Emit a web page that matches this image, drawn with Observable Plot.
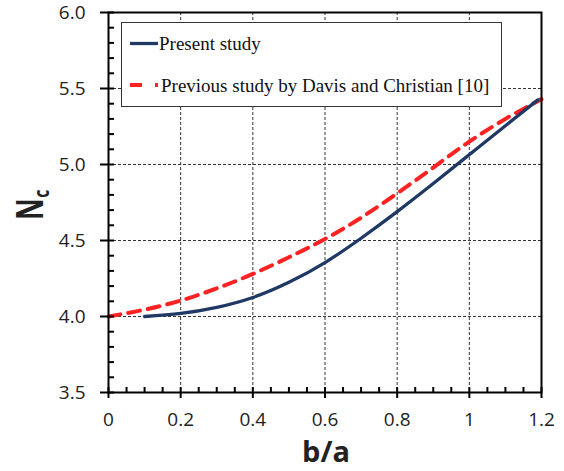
<!DOCTYPE html>
<html>
<head>
<meta charset="utf-8">
<script src="https://cdn.jsdelivr.net/npm/d3@7"></script>
<script src="https://cdn.jsdelivr.net/npm/@observablehq/plot@0.6"></script>
<style>
  html, body { margin: 0; padding: 0; background: #fff; }
  #chart svg { display: block; }
</style>
</head>
<body>
<div id="chart"></div>
<script>
// ---- data ----
const seriesNames = ["Present study", "Previous study by Davis and Christian [10]"];
const bRatioPresent = [0.1, 0.2, 0.3, 0.4, 0.5, 0.6, 0.7, 0.8, 0.9, 1.0, 1.1, 1.19];
const ncPresent     = [4.0, 4.02, 4.06, 4.125, 4.225, 4.355, 4.515, 4.69, 4.875, 5.065, 5.255, 5.425];
const bRatioPrev = [0, 0.1, 0.2, 0.3, 0.4, 0.5, 0.6, 0.7, 0.8, 0.9, 1.0, 1.1, 1.2];
const ncPrev     = [4.0, 4.045, 4.105, 4.185, 4.28, 4.39, 4.51, 4.65, 4.81, 4.98, 5.15, 5.30, 5.43];
const xTicks = [0, 0.2, 0.4, 0.6, 0.8, 1.0, 1.2];
const xTickLabels = ["0", "0.2", "0.4", "0.6", "0.8", "1", "1.2"];
const yTicks = [3.5, 4.0, 4.5, 5.0, 5.5, 6.0];
const yTickLabels = ["3.5", "4.0", "4.5", "5.0", "5.5", "6.0"];
const xMinor = d3.range(0, 1.2001, 0.05).map(v => +v.toFixed(2));
const yMinor = d3.range(3.5, 6.0001, 0.1).map(v => +v.toFixed(1));
const xTitle = "b/a";
const yTitleMain = "N";
const yTitleSub = "c";

const present = bRatioPresent.map((b, i) => ({b, nc: ncPresent[i]}));
const previous = bRatioPrev.map((b, i) => ({b, nc: ncPrev[i]}));

const blue = "#203864";
const red = "#ff2222";

const W = 564, H = 471;
const svg = Plot.plot({
  width: W,
  height: H,
  marginLeft: 108,
  marginRight: 23,
  marginTop: 12,
  marginBottom: 79,
  style: {fontFamily: "'Open Sans', sans-serif", fontSize: "19px", color: "#222", background: "#fff"},
  x: {domain: [0, 1.2]},
  y: {domain: [3.5, 6.0]},
  marks: [
    Plot.gridX(xTicks.slice(1, -1), {stroke: "#333", strokeOpacity: 1, strokeWidth: 1, strokeDasharray: "3,2"}),
    Plot.gridY(yTicks.slice(1, -1), {stroke: "#333", strokeOpacity: 1, strokeWidth: 1, strokeDasharray: "3,2"}),
    Plot.line(previous, {x: "b", y: "nc", stroke: red, strokeWidth: 4, strokeDasharray: "12,8", curve: "natural"}),
    Plot.line(present, {x: "b", y: "nc", stroke: blue, strokeWidth: 3.3, curve: "natural"}),
    Plot.frame({stroke: "#000", strokeWidth: 2}),
    // inward ticks (minor + major)
    Plot.axisX({ticks: xMinor, tickSize: -5, tickFormat: () => "", label: null, stroke: "#000", strokeWidth: 2}),
    Plot.axisY({ticks: yMinor, tickSize: -6, tickFormat: () => "", label: null, stroke: "#000", strokeWidth: 2}),
    // outward major ticks with labels
    Plot.axisX({ticks: xTicks, tickSize: 6, tickPadding: 14, tickFormat: (d, i) => xTickLabels[i], label: null, stroke: "#000", strokeWidth: 2, fill: "#222"}),
    Plot.axisY({ticks: yTicks, tickSize: 8, tickPadding: 15, tickFormat: (d, i) => yTickLabels[i], label: null, stroke: "#000", strokeWidth: 2, fill: "#222"})
  ]
});

const root = d3.select(svg);

// axis titles
root.append("text")
  .attr("x", 326).attr("y", 462)
  .attr("text-anchor", "middle")
  .attr("font-family", "'Open Sans', sans-serif")
  .attr("font-weight", "bold")
  .attr("font-size", 29)
  .attr("fill", "#222")
  .text(xTitle);

const yt = root.append("text")
  .attr("transform", "translate(43,220) rotate(-90) scale(0.72,1)")
  .attr("text-anchor", "start")
  .attr("font-family", "'Open Sans', sans-serif")
  .attr("font-weight", "bold")
  .attr("fill", "#222");
yt.append("tspan").attr("font-size", 37).text(yTitleMain);
yt.append("tspan").attr("font-size", 22).attr("dy", 6).attr("dx", 1).text(yTitleSub);

// legend
const lg = root.append("g").attr("text-anchor", "start");
lg.append("rect")
  .attr("x", 121.5).attr("y", 22.5).attr("width", 380).attr("height", 84)
  .attr("fill", "#fff").attr("stroke", "#333").attr("stroke-width", 1);
lg.append("line")
  .attr("x1", 130).attr("x2", 158).attr("y1", 43.5).attr("y2", 43.5)
  .attr("stroke", blue).attr("stroke-width", 3.3);
lg.append("text")
  .attr("x", 159).attr("y", 49.5)
  .attr("text-anchor", "start")
  .attr("font-family", "'Liberation Serif', 'Times New Roman', serif")
  .attr("font-size", 19).attr("fill", "#111")
  .text(seriesNames[0]);
lg.append("line")
  .attr("x1", 130).attr("x2", 158).attr("y1", 85).attr("y2", 85)
  .attr("stroke", red).attr("stroke-width", 4).attr("stroke-dasharray", "12,13");
lg.append("text")
  .attr("x", 161).attr("y", 91.5)
  .attr("text-anchor", "start")
  .attr("font-family", "'Liberation Serif', 'Times New Roman', serif")
  .attr("font-size", 19).attr("fill", "#111")
  .text(seriesNames[1]);

document.getElementById("chart").appendChild(svg);
</script>
</body>
</html>
